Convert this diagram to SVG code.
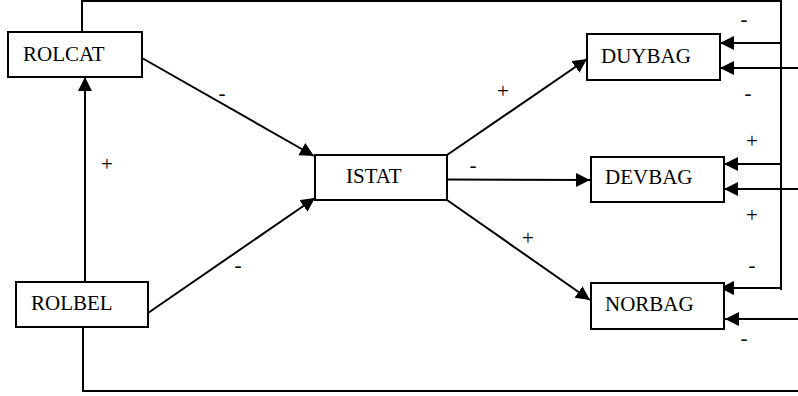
<svg xmlns="http://www.w3.org/2000/svg" width="798" height="396" viewBox="0 0 798 396">
<style>
.box{fill:#fff;stroke:#000;stroke-width:2}
.lbl{font-family:"Liberation Serif","Times New Roman",serif;font-size:21px;fill:#000}
.sign{font-family:"Liberation Serif","Times New Roman",serif;font-size:21px;fill:#000;text-anchor:middle}
.ln{fill:none;stroke:#000;stroke-width:2}
.ar{fill:none;stroke:#000;stroke-width:2;marker-end:url(#ah)}
</style>
<defs>
<marker id="ah" markerUnits="userSpaceOnUse" markerWidth="15" markerHeight="15" refX="14" refY="7" orient="auto">
<path d="M0,0 L14,7 L0,14 z" fill="#000"/>
</marker>
</defs>
<rect width="798" height="396" fill="#fff"/>
<g id="connectors">
<line class="ar" x1="142" y1="58" x2="314" y2="156"/>
<line class="ar" x1="148" y1="313" x2="315" y2="198"/>
<line class="ar" x1="85" y1="282" x2="85" y2="77"/>
<line class="ar" x1="447" y1="155" x2="587" y2="59"/>
<line class="ar" x1="447" y1="179.5" x2="590" y2="180"/>
<line class="ar" x1="447" y1="200" x2="590" y2="300"/>
<polyline class="ln" points="82,32 82,1 781,1 781,290"/>
<line class="ar" x1="781" y1="43" x2="720" y2="43"/>
<line class="ar" x1="781" y1="164" x2="724" y2="164"/>
<line class="ar" x1="781" y1="288" x2="720" y2="288"/>
<line class="ar" x1="798" y1="68" x2="720" y2="68"/>
<line class="ar" x1="798" y1="189" x2="724" y2="189"/>
<line class="ar" x1="798" y1="319" x2="725" y2="319"/>
<polyline class="ln" points="83,327 83,391 798,391"/>
</g>
<g id="ROLCAT"><rect class="box" x="8" y="32" width="134" height="45"/><text class="lbl" x="23" y="60.5">ROLCAT</text></g>
<g id="ROLBEL"><rect class="box" x="16" y="282" width="132" height="45"/><text class="lbl" x="31" y="310">ROLBEL</text></g>
<g id="ISTAT"><rect class="box" x="315" y="155" width="132" height="45"/><text class="lbl" x="346" y="183">ISTAT</text></g>
<g id="DUYBAG"><rect class="box" x="587" y="34" width="133" height="46"/><text class="lbl" x="601" y="63">DUYBAG</text></g>
<g id="DEVBAG"><rect class="box" x="591" y="157" width="133" height="45"/><text class="lbl" x="605" y="184">DEVBAG</text></g>
<g id="NORBAG"><rect class="box" x="591" y="283" width="133" height="46"/><text class="lbl" x="605" y="311">NORBAG</text></g>
<g id="labels">
<text class="sign" x="222" y="99.5">-</text>
<text class="sign" x="107" y="171">+</text>
<text class="sign" x="238" y="272">-</text>
<text class="sign" x="503" y="98">+</text>
<text class="sign" x="473" y="172">-</text>
<text class="sign" x="528" y="245">+</text>
<text class="sign" x="744" y="26">-</text>
<text class="sign" x="748" y="100">-</text>
<text class="sign" x="752" y="147.5">+</text>
<text class="sign" x="752" y="222">+</text>
<text class="sign" x="752" y="272">-</text>
<text class="sign" x="744" y="345">-</text>
</g>
</svg>
